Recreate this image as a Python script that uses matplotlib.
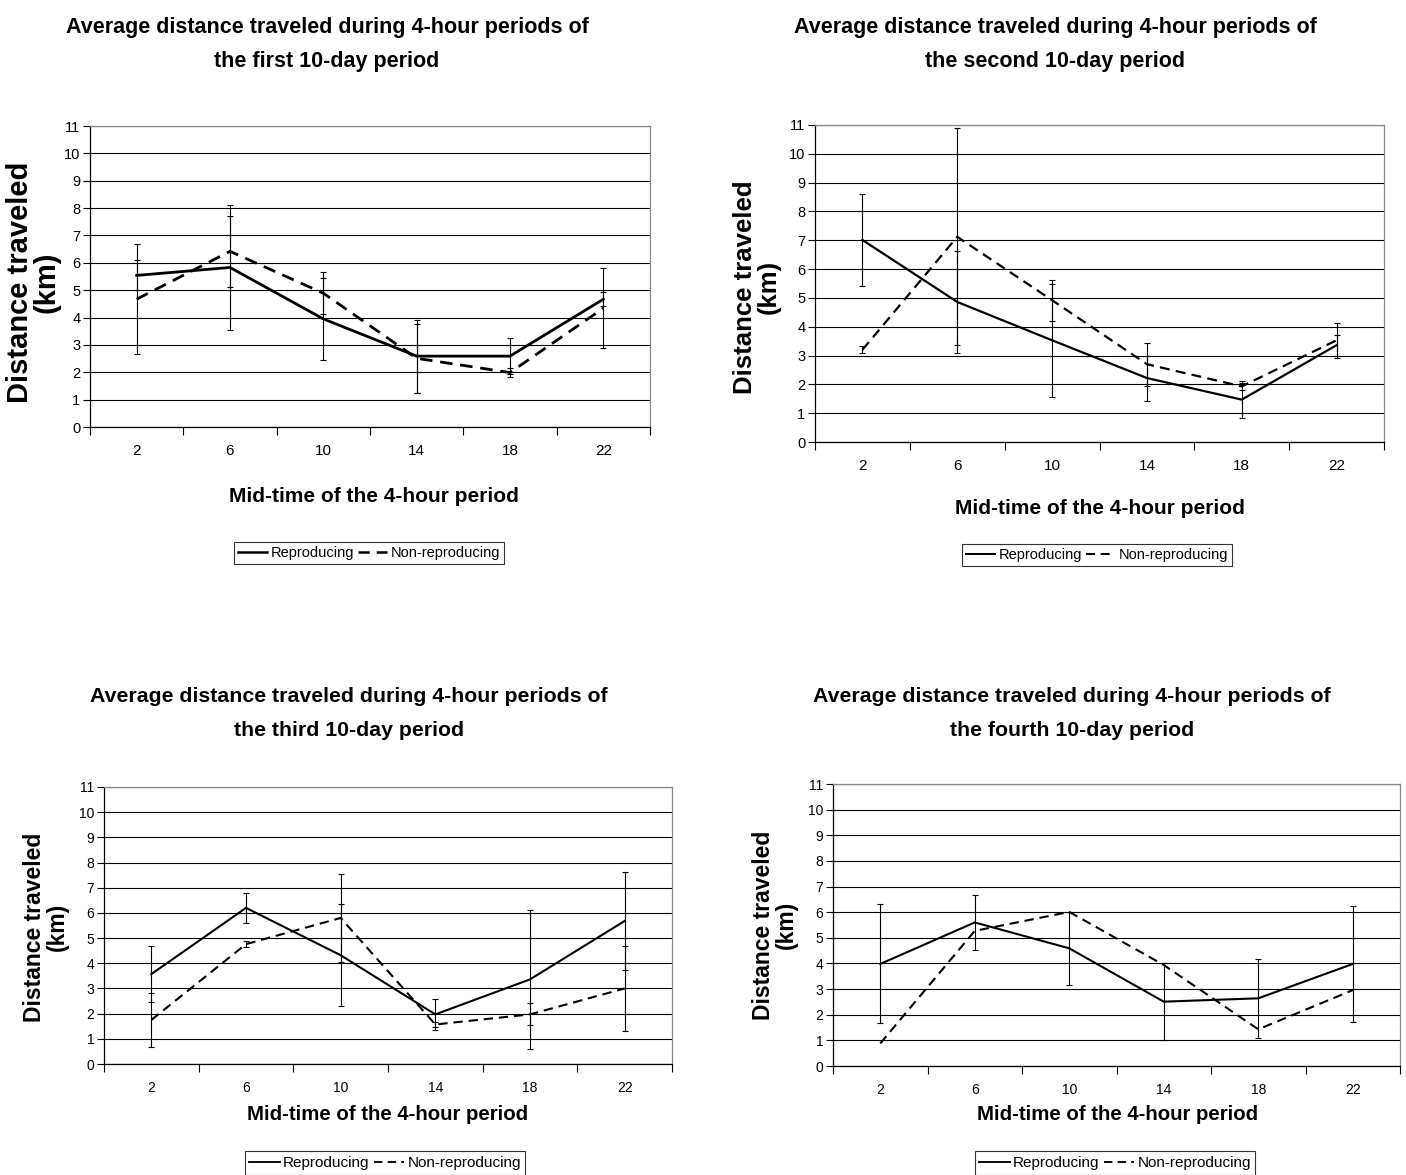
import numpy as np
import matplotlib
matplotlib.use("Agg")
import matplotlib.pyplot as plt
from matplotlib.lines import Line2D

plt.rcParams['font.family'] = ['Liberation Sans', 'DejaVu Sans']

hours = ["2", "6", "10", "14", "18", "22"]

# first 10-day period
rep_1 = [5.54, 5.83, 3.95, 2.59, 2.59, 4.67]
rep_1_err = [0.55, 2.28, 1.50, 1.33, 0.65, 0.25]
non_1 = [4.67, 6.42, 4.89, 2.51, 1.99, 4.34]
non_1_err = [2.00, 1.29, 0.76, 1.27, 0.17, 1.47]

# second 10-day period
rep_2 = [7.01, 4.86, 3.53, 2.22, 1.47, 3.36]
rep_2_err = [1.61, 1.76, 1.97, 0.78, 0.63, 0.37]
non_2 = [3.20, 7.12, 4.92, 2.70, 1.93, 3.53]
non_2_err = [0.12, 3.76, 0.71, 0.74, 0.12, 0.60]

# third 10-day period
rep_3 = [3.57, 6.20, 4.32, 1.97, 3.36, 5.68]
rep_3_err = [1.10, 0.60, 2.02, 0.60, 2.75, 1.93]
non_3 = [1.75, 4.76, 5.80, 1.57, 1.97, 3.00]
non_3_err = [1.07, 0.12, 1.75, 0.10, 0.44, 1.68]

# fourth 10-day period (no error bars on the non-reproducing series)
rep_4 = [3.98, 5.60, 4.59, 2.51, 2.64, 3.98]
rep_4_err = [2.32, 1.08, 1.42, 1.50, 1.55, 2.27]
non_4 = [0.88, 5.27, 6.01, 3.94, 1.43, 2.96]
non_4_err = None

titles = ["the first 10-day period", "the second 10-day period",
          "the third 10-day period", "the fourth 10-day period"]

W, H = 1406, 1175
fig = plt.figure(figsize=(W / 100, H / 100), dpi=100)

FONT = ['Liberation Sans', 'DejaVu Sans']


def px_box(left, top, right, bottom):
    return [left / W, 1 - bottom / H, (right - left) / W, (bottom - top) / H]


def draw_panel(box, rep, rep_err, non, non_err, title, cfg):
    ax = fig.add_axes(px_box(*box))
    x = np.arange(len(hours))
    lw = cfg['lw']

    ax.set_xlim(-0.5, len(hours) - 0.5)
    ax.set_ylim(0, 11)
    ax.set_yticks(range(0, 12))
    ax.yaxis.grid(True, color='black', lw=0.8)
    ax.set_axisbelow(True)

    # category boundary ticks, labels sit in the middle
    ax.set_xticks(np.arange(-0.5, len(hours), 1.0))
    ax.set_xticklabels([])
    ax.set_xticks(x, minor=True)
    ax.set_xticklabels(hours, minor=True, fontsize=cfg['xtick_fs'])
    ax.tick_params(axis='x', which='major', length=6, width=0.8, direction='out')
    ax.tick_params(axis='x', which='minor', length=0, pad=12)
    ax.tick_params(axis='y', length=5, width=0.8, labelsize=cfg['ytick_fs'], pad=2)

    for s in ['left', 'bottom']:
        ax.spines[s].set_color('black')
        ax.spines[s].set_linewidth(0.9)
    for s in ['top', 'right']:
        ax.spines[s].set_color('#888888')
        ax.spines[s].set_linewidth(0.9)

    ax.errorbar(x, rep, yerr=rep_err, fmt='none', ecolor='black',
                elinewidth=0.8, capsize=2.5, capthick=0.8)
    if non_err is not None:
        ax.errorbar(x, non, yerr=non_err, fmt='none', ecolor='black',
                    elinewidth=0.8, capsize=2.5, capthick=0.8)
    ax.plot(x, rep, color='black', lw=lw, solid_joinstyle='miter')
    ax.plot(x, non, color='black', lw=lw, dashes=(4.5, 2.8))

    # titles, axis labels and legend placed in pixels
    cx, l1, l2 = cfg['title_pos']
    for txt, yy in [("Average distance traveled during 4-hour periods of", l1), (title, l2)]:
        fig.text(cx / W, 1 - yy / H, txt, ha='center', va='center', fontweight='bold',
                 fontsize=cfg['title_fs'])

    yx, yy = cfg['ylabel_pos']
    fig.text(yx / W, 1 - yy / H, "Distance traveled\n(km)", rotation=90, ha='center',
             va='center', multialignment='center', fontweight='bold',
             fontsize=cfg['ylabel_fs'], linespacing=0.95)

    xx, xy = cfg['xlabel_pos']
    fig.text(xx / W, 1 - xy / H, "Mid-time of the 4-hour period", ha='center', va='center',
             fontweight='bold', fontsize=cfg['xlabel_fs'])

    handles = [Line2D([], [], color='black', lw=lw * 0.9),
               Line2D([], [], color='black', lw=lw * 0.9, dashes=(4.5, 2.8))]
    lx, ly = cfg['legend_pos']
    leg = fig.legend(handles, ["Reproducing", "Non-reproducing"], loc='center',
                     bbox_to_anchor=(lx / W, 1 - ly / H), ncol=2, frameon=True,
                     fancybox=False, edgecolor='black', borderpad=0.3,
                     handlelength=2.0, handletextpad=0.2, columnspacing=0.3,
                     prop={'family': FONT, 'size': cfg['legend_fs']})
    leg.get_frame().set_linewidth(0.8)
    return ax


top_cfg = dict(lw=2.0, xtick_fs=11, ytick_fs=10.5,
               title_fs=15.5, xlabel_fs=15, ylabel_fs=21, legend_fs=10.5)
bot_cfg = dict(lw=1.5, xtick_fs=10, ytick_fs=10,
               title_fs=15.3, xlabel_fs=14.7, ylabel_fs=16.5, legend_fs=11)

draw_panel((90, 126, 650, 427), rep_1, rep_1_err, non_1, non_1_err, titles[0],
           dict(top_cfg, title_pos=(327, 27, 62), ylabel_pos=(33, 282),
                xlabel_pos=(374, 497), legend_pos=(369, 553)))
draw_panel((815, 125, 1384, 442), rep_2, rep_2_err, non_2, non_2_err, titles[1],
           dict(top_cfg, lw=1.6, ylabel_fs=18.5, title_pos=(1055, 27, 62),
                ylabel_pos=(757, 287), xlabel_pos=(1100, 508), legend_pos=(1097, 555)))
draw_panel((104, 787, 672, 1064), rep_3, rep_3_err, non_3, non_3_err, titles[2],
           dict(bot_cfg, title_pos=(349, 697, 730), ylabel_pos=(46, 927),
                xlabel_pos=(388, 1115), legend_pos=(385, 1163)))
draw_panel((833, 784, 1400, 1066), rep_4, rep_4_err, non_4, non_4_err, titles[3],
           dict(bot_cfg, title_pos=(1072, 697, 730), ylabel_pos=(775, 925),
                xlabel_pos=(1118, 1115), legend_pos=(1115, 1163)))

fig.savefig("out.png", dpi=100, facecolor='white')
